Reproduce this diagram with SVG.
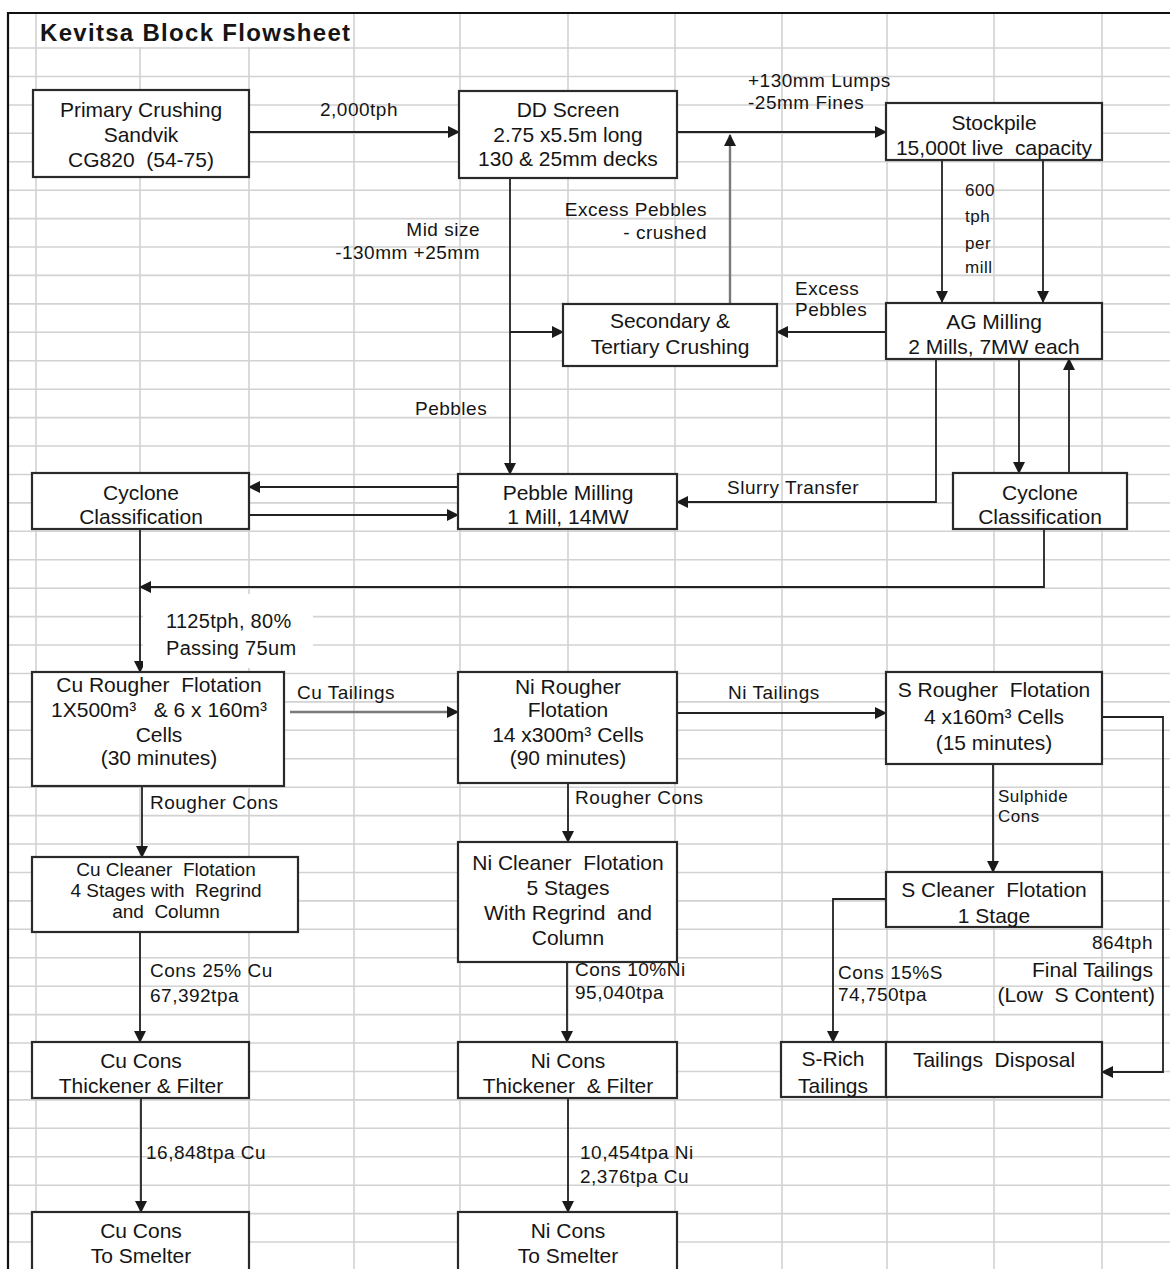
<svg xmlns="http://www.w3.org/2000/svg" width="1170" height="1269" viewBox="0 0 1170 1269">
<style>
.grid{fill:none;stroke:#d2d2d2;stroke-width:1.6}
.frame{fill:none;stroke:#111;stroke-width:2.2}
.box{fill:#fff;stroke:#2a2a2a;stroke-width:2.2}
.t{font-family:"Liberation Sans",Arial,sans-serif;font-size:21px;fill:#151515;text-anchor:middle;white-space:pre}
.l{font-family:"Liberation Sans",Arial,sans-serif;font-size:19px;fill:#151515;letter-spacing:0.5px;white-space:pre}
.s{font-size:17px}
.big{font-size:21px;letter-spacing:0}
.e{text-anchor:end}
.tight{font-size:19px}
.c{fill:none;stroke:#222;stroke-width:1.8}
.g{stroke:#7a7a7a;stroke-width:2.4}
.title{font-family:"Liberation Sans",Arial,sans-serif;font-size:24px;font-weight:bold;fill:#151515;letter-spacing:1.3px}
</style>
<defs>
<marker id="ah" markerUnits="userSpaceOnUse" markerWidth="12" markerHeight="12" viewBox="0 0 12 12" refX="11" refY="6" orient="auto">
<path d="M0,0 L12,6 L0,12 z" fill="#1a1a1a"/>
</marker>
</defs>
<rect x="0" y="0" width="1170" height="1269" fill="#fff"/>
<g id="grid">
<path class="grid" d="M36,13V1269 M140,13V1269 M249,13V1269 M354,13V1269 M460,13V1269 M568,13V1269 M675,13V1269 M782,13V1269 M887,13V1269 M994,13V1269 M1102,13V1269
M8,48H1170 M8,76.5H1170 M8,105H1170 M8,133.3H1170 M8,161.7H1170 M8,190.2H1170 M8,218.6H1170 M8,247H1170 M8,275.4H1170 M8,303.9H1170 M8,332.3H1170 M8,360.7H1170 M8,389.2H1170 M8,417.6H1170 M8,446H1170 M8,474.5H1170 M8,502.9H1170 M8,531.3H1170 M8,559.7H1170 M8,588.2H1170 M8,616.6H1170 M8,645H1170 M8,673.5H1170 M8,701.9H1170 M8,730.3H1170 M8,758.8H1170 M8,787.2H1170 M8,815.6H1170 M8,844H1170 M8,872.5H1170 M8,900.9H1170 M8,929.3H1170 M8,957.8H1170 M8,986.2H1170 M8,1014.6H1170 M8,1043H1170 M8,1071.5H1170 M8,1099.9H1170 M8,1128.3H1170 M8,1156.8H1170 M8,1185.2H1170 M8,1213.6H1170 M8,1242H1170"/>
<path class="frame" d="M8,1269V13H1170"/>
</g>
<g id="title">
<rect x="37" y="14" width="316" height="33" fill="#fff"/>
<text class="title" x="40" y="41">Kevitsa Block Flowsheet</text>
</g>
<g id="connectors">
<path class="c" d="M249,132H459" marker-end="url(#ah)"/>
<path class="c" d="M677,132H886" marker-end="url(#ah)"/>
<path class="c g" d="M730,304V135" marker-end="url(#ah)"/>
<path class="c" d="M510,178V474" marker-end="url(#ah)"/>
<path class="c" d="M510,332H563" marker-end="url(#ah)"/>
<path class="c" d="M886,332H777" marker-end="url(#ah)"/>
<path class="c" d="M942,160V302" marker-end="url(#ah)"/>
<path class="c" d="M1043,160V302" marker-end="url(#ah)"/>
<path class="c" d="M936,359V502H677" marker-end="url(#ah)"/>
<path class="c" d="M1019,359V473" marker-end="url(#ah)"/>
<path class="c" d="M1069,473V359" marker-end="url(#ah)"/>
<path class="c" d="M1044,529V587H140" marker-end="url(#ah)"/>
<path class="c" d="M458,487H249" marker-end="url(#ah)"/>
<path class="c" d="M249,515H458" marker-end="url(#ah)"/>
<path class="c" d="M140,529V672" marker-end="url(#ah)"/>
<path class="c g" d="M290,712H458" marker-end="url(#ah)"/>
<path class="c" d="M677,713H886" marker-end="url(#ah)"/>
<path class="c" d="M142,786V857" marker-end="url(#ah)"/>
<path class="c" d="M568,783V842" marker-end="url(#ah)"/>
<path class="c" d="M993,764V872" marker-end="url(#ah)"/>
<path class="c" d="M1102,717H1163V1072H1102" marker-end="url(#ah)"/>
<path class="c" d="M886,899H833V1042" marker-end="url(#ah)"/>
<path class="c" d="M140,932V1042" marker-end="url(#ah)"/>
<path class="c" d="M141,1098V1212" marker-end="url(#ah)"/>
<path class="c" d="M567,962V1042" marker-end="url(#ah)"/>
<path class="c" d="M568,1098V1212" marker-end="url(#ah)"/>
</g>
<g id="labels">
<text class="l" x="320" y="116">2,000tph</text>
<text class="l" x="748" y="87">+130mm Lumps</text>
<text class="l" x="748" y="109">-25mm Fines</text>
<text class="l e" x="707" y="216">Excess Pebbles</text>
<text class="l e" x="707" y="239">- crushed</text>
<text class="l e" x="480" y="236">Mid size</text>
<text class="l e" x="480" y="259">-130mm +25mm</text>
<text class="l" x="415" y="415">Pebbles</text>
<text class="l" x="795" y="295">Excess</text>
<text class="l" x="795" y="316">Pebbles</text>
<text class="l s" x="965" y="196">600</text>
<text class="l s" x="965" y="222">tph</text>
<text class="l s" x="965" y="249">per</text>
<text class="l s" x="965" y="273">mill</text>
<text class="l" x="727" y="494">Slurry Transfer</text>
<rect x="143" y="594" width="170" height="74" fill="#fff"/>
<text class="l" x="166" y="628" style="font-size:20px;letter-spacing:0.3px">1125tph, 80%</text>
<text class="l" x="166" y="655" style="font-size:20px;letter-spacing:0.3px">Passing 75um</text>
<text class="l" x="297" y="699">Cu Tailings</text>
<text class="l" x="728" y="699">Ni Tailings</text>
<text class="l" x="150" y="809">Rougher Cons</text>
<text class="l" x="575" y="804">Rougher Cons</text>
<text class="l s" x="998" y="802">Sulphide</text>
<text class="l s" x="998" y="822">Cons</text>
<text class="l" x="838" y="979">Cons 15%S</text>
<text class="l" x="838" y="1001">74,750tpa</text>
<text class="l e" x="1153" y="949">864tph</text>
<text class="l e big" x="1153" y="977">Final Tailings</text>
<text class="l e big" x="1155" y="1002">(Low  S Content)</text>
<text class="l" x="150" y="977">Cons 25% Cu</text>
<text class="l" x="150" y="1002">67,392tpa</text>
<text class="l" x="146" y="1159">16,848tpa Cu</text>
<text class="l" x="575" y="976">Cons 10%Ni</text>
<text class="l" x="575" y="999">95,040tpa</text>
<text class="l" x="580" y="1159">10,454tpa Ni</text>
<text class="l" x="580" y="1183">2,376tpa Cu</text>
</g>
<g id="n-primary"><rect class="box" x="33" y="90" width="216" height="87"/>
<text class="t" x="141" y="117">Primary Crushing</text><text class="t" x="141" y="142">Sandvik</text><text class="t" x="141" y="167">CG820  (54-75)</text></g>
<g id="n-ddscreen"><rect class="box" x="459" y="91" width="218" height="87"/>
<text class="t" x="568" y="117">DD Screen</text><text class="t" x="568" y="142">2.75 x5.5m long</text><text class="t" x="568" y="166">130 &amp; 25mm decks</text></g>
<g id="n-stockpile"><rect class="box" x="886" y="103" width="216" height="57"/>
<text class="t" x="994" y="130">Stockpile</text><text class="t" x="994" y="155">15,000t live  capacity</text></g>
<g id="n-agmill"><rect class="box" x="886" y="303" width="216" height="56"/>
<text class="t" x="994" y="329">AG Milling</text><text class="t" x="994" y="354">2 Mills, 7MW each</text></g>
<g id="n-crushing2"><rect class="box" x="563" y="304" width="214" height="62"/>
<text class="t" x="670" y="328">Secondary &amp;</text><text class="t" x="670" y="354">Tertiary Crushing</text></g>
<g id="n-pebblemill"><rect class="box" x="458" y="474" width="219" height="55"/>
<text class="t" x="568" y="500">Pebble Milling</text><text class="t" x="568" y="524">1 Mill, 14MW</text></g>
<g id="n-cyclone-left"><rect class="box" x="32" y="473" width="217" height="56"/>
<text class="t" x="141" y="500">Cyclone</text><text class="t" x="141" y="524">Classification</text></g>
<g id="n-cyclone-right"><rect class="box" x="953" y="473" width="174" height="56"/>
<text class="t" x="1040" y="500">Cyclone</text><text class="t" x="1040" y="524">Classification</text></g>
<g id="n-cu-rougher"><rect class="box" x="32" y="672" width="252" height="114"/>
<text class="t" x="159" y="692">Cu Rougher  Flotation</text><text class="t" x="159" y="717">1X500m³   &amp; 6 x 160m³</text><text class="t" x="159" y="742">Cells</text><text class="t" x="159" y="765">(30 minutes)</text></g>
<g id="n-ni-rougher"><rect class="box" x="458" y="672" width="219" height="111"/>
<text class="t" x="568" y="694">Ni Rougher</text><text class="t" x="568" y="717">Flotation</text><text class="t" x="568" y="742">14 x300m³ Cells</text><text class="t" x="568" y="765">(90 minutes)</text></g>
<g id="n-s-rougher"><rect class="box" x="886" y="672" width="216" height="92"/>
<text class="t" x="994" y="697">S Rougher  Flotation</text><text class="t" x="994" y="724">4 x160m³ Cells</text><text class="t" x="994" y="750">(15 minutes)</text></g>
<g id="n-cu-cleaner"><rect class="box" x="32" y="857" width="266" height="75"/>
<text class="t tight" x="166" y="876">Cu Cleaner  Flotation</text><text class="t tight" x="166" y="897">4 Stages with  Regrind</text><text class="t tight" x="166" y="918">and  Column</text></g>
<g id="n-ni-cleaner"><rect class="box" x="458" y="842" width="219" height="120"/>
<text class="t" x="568" y="870">Ni Cleaner  Flotation</text><text class="t" x="568" y="895">5 Stages</text><text class="t" x="568" y="920">With Regrind  and</text><text class="t" x="568" y="945">Column</text></g>
<g id="n-s-cleaner"><rect class="box" x="886" y="872" width="216" height="55"/>
<text class="t" x="994" y="897">S Cleaner  Flotation</text><text class="t" x="994" y="923">1 Stage</text></g>
<g id="n-s-rich"><rect class="box" x="781" y="1042" width="105" height="55"/>
<text class="t" x="833" y="1066">S-Rich</text><text class="t" x="833" y="1093">Tailings</text></g>
<g id="n-tailings"><rect class="box" x="886" y="1042" width="216" height="55"/>
<text class="t" x="994" y="1067">Tailings  Disposal</text></g>
<g id="n-cu-thick"><rect class="box" x="32" y="1042" width="217" height="56"/>
<text class="t" x="141" y="1068">Cu Cons</text><text class="t" x="141" y="1093">Thickener &amp; Filter</text></g>
<g id="n-cu-smelter"><rect class="box" x="32" y="1212" width="217" height="70"/>
<text class="t" x="141" y="1238">Cu Cons</text><text class="t" x="141" y="1263">To Smelter</text></g>
<g id="n-ni-thick"><rect class="box" x="458" y="1042" width="219" height="56"/>
<text class="t" x="568" y="1068">Ni Cons</text><text class="t" x="568" y="1093">Thickener  &amp; Filter</text></g>
<g id="n-ni-smelter"><rect class="box" x="458" y="1212" width="219" height="70"/>
<text class="t" x="568" y="1238">Ni Cons</text><text class="t" x="568" y="1263">To Smelter</text></g>
</svg>
